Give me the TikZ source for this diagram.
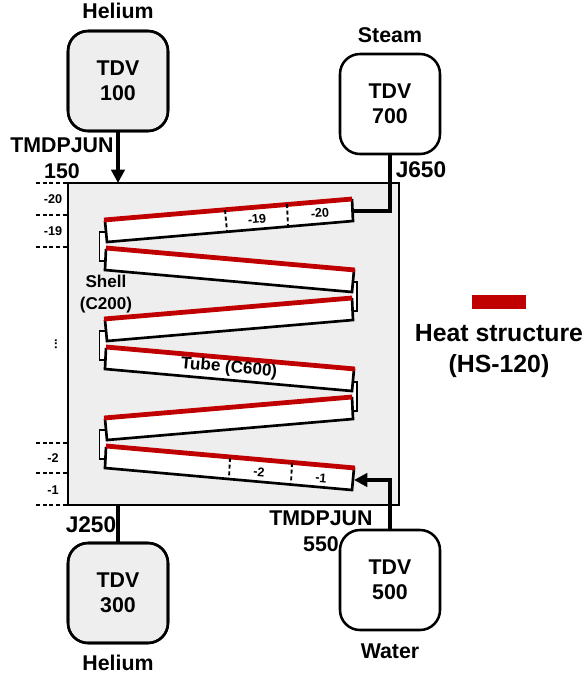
\documentclass[tikz,border=0pt]{standalone}
\usepackage{fontspec}
\setmainfont{Liberation Sans}
\usetikzlibrary{patterns.meta,arrows.meta,calc}
\definecolor{hsred}{RGB}{192,0,0}
\tikzset{
  x=0.75pt,y=-0.75pt,
  tdvbox/.style={draw=black,line width=1.9pt,rounded corners=15pt,minimum width=75pt,minimum height=75pt,inner sep=0pt,align=center,font=\fontsize{16}{19}\selectfont\bfseries},
  pipe/.style={line width=2.6pt,draw=black},
  tube/.style={draw=black,line width=2pt,fill=white},
  heat/.style={draw=hsred,line width=3.6pt},
  link/.style={draw=black,line width=1.2pt,fill=white},
  lbl/.style={font=\fontsize{16}{19}\selectfont\bfseries,inner sep=0pt,align=center},
  jlbl/.style={font=\fontsize{17}{19}\selectfont\bfseries,inner sep=0pt,align=center},
  big/.style={font=\fontsize{18.6}{23}\selectfont\bfseries,inner sep=0pt,align=center},
  mid/.style={font=\fontsize{12.8}{16}\selectfont\bfseries,inner sep=0pt,align=center},
  tiny/.style={font=\fontsize{9.5}{11}\selectfont\bfseries,inner sep=0pt},
  cell/.style={draw=black,line width=1.4pt,dash pattern=on 3pt off 2pt},
  tick/.style={draw=black,line width=1.5pt,dash pattern=on 3pt off 2pt},
  dots/.style={pattern={Dots[radius=0.35pt,distance=1.5pt]},pattern color=black!80},
}
\begin{document}
\begin{tikzpicture}
\useasboundingbox (0,0) rectangle (586,676);
% shell box
\coordinate (bTL) at (68,183);
\coordinate (bBR) at (399,505);
\fill[white] (bTL) rectangle (bBR);
\path[dots] (bTL) rectangle (bBR);
% boundary volumes
\node[tdvbox,fill=white] (t100) at (118,81) {};
\path[dots,rounded corners=15pt] (68,31) rectangle (168,131);
\node[tdvbox] at (118,81) {TDV\\100};
\node[tdvbox,fill=white] (t700) at (390,104) {TDV\\700};
\node[tdvbox,fill=white] (t300) at (118,593) {};
\path[dots,rounded corners=15pt] (68,543) rectangle (168,643);
\node[tdvbox] at (118,593) {TDV\\300};
\node[tdvbox,fill=white] (t500) at (390,580) {TDV\\500};
\coordinate (inTop) at (118,183);
\coordinate (outBot) at (118,505);
\coordinate (j650a) at (390,211);
\coordinate (j650b) at (353,211);
\coordinate (j550a) at (390,480);
\coordinate (j550b) at (354,480);
\draw[pipe,-{Triangle[length=10pt,width=10pt]}] (t100.south) -- (inTop);
\draw[pipe] (outBot) -- (t300.north);
\draw[black,line width=1.9pt] (bTL) rectangle (bBR);
\draw[pipe] (t700.south) -- (j650a) -- (j650b);
\draw[pipe,-{Triangle[length=10pt,width=10pt]}] (t500.north) -- (j550a) -- (j550b);
% links
\foreach \yy in {232,331,430} \draw[link] (105.5,\yy) -- (99.5,\yy) -- (99.5,\yy+29) -- (105.5,\yy+29);
\foreach \yy in {282,382} \draw[link] (353,\yy) -- (357,\yy) -- (357,\yy+29) -- (353,\yy+29);
% tubes: rising
\foreach \d in {0,99,198} {
  \fill[white] (105,221+\d) -- (352,199+\d) -- (353,221+\d) -- (107,242+\d) -- cycle;
  \draw[tube] (105,221+\d) -- (107,242+\d) -- (353,221+\d) -- (352,199+\d);
  \draw[heat] (104,220+\d) -- (352,199+\d);
}
% tubes: falling
\foreach \d in {0,99,198} {
  \fill[white] (106,249+\d) -- (355,270+\d) -- (352,292+\d) -- (105,270+\d) -- cycle;
  \draw[tube] (106,249+\d) -- (105,270+\d) -- (352,292+\d) -- (354,270+\d);
  \draw[heat] (106,248+\d) -- (355,270+\d);
}
% cells
\draw[cell] (225,210) -- (227,231);
\draw[cell] (287,204) -- (288,226);
\draw[cell] (230,458) -- (229,478);
\draw[cell] (292,463) -- (291,483);
\node[tiny,rotate=5] (c19) at (257,219) {-19};
\node[tiny,rotate=5] (c20) at (320,213) {-20};
\node[tiny,rotate=-5] (c2) at (259,472) {-2};
\node[tiny,rotate=-5] (c1) at (321,478) {-1};
% ticks
\foreach \yy in {183,215,247,443,473,505} \draw[tick] (36,\yy) -- (68,\yy);
\node[tiny] (a20) at (53,199) {-20};
\node[tiny] (a19) at (53,231) {-19};
\node[tiny] (a2) at (53,458) {-2};
\node[tiny] (a1) at (53,490) {-1};
\node[tiny,rotate=90] (adots) at (56,344) {...};
% labels
\node[lbl] (hel1) at (118,11) {Helium};
\node[lbl] (steam) at (390,35) {Steam};
\node[lbl] (hel2) at (118,663) {Helium};
\node[lbl] (water) at (390,651) {Water};
\node[lbl] (tj150) at (62,145) {TMDPJUN};
\node[lbl] (n150) at (62,171) {150};
\node[jlbl] (j650) at (421,170) {J650};
\node[jlbl] (j250) at (91,525) {J250};
\node[lbl] (tj550) at (321,518) {TMDPJUN};
\node[lbl] (n550) at (321,544) {550};
\node[mid] (shell) at (106,294) {Shell\\(C200)};
\node[mid,rotate=-5] (tube) at (229,368) {Tube (C600)};
\fill[hsred] (472,295) rectangle (526,309);
\node[big] (hs) at (499,351) {Heat structure\\(HS-120)};
\end{tikzpicture}
\end{document}
